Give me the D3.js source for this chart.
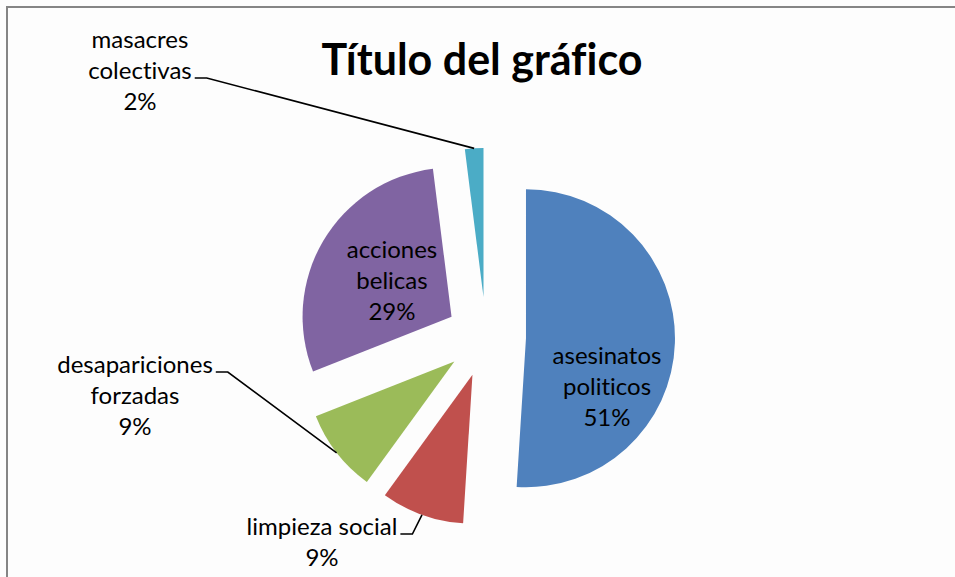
<!DOCTYPE html>
<html>
<head>
<meta charset="utf-8">
<script src="https://cdn.jsdelivr.net/npm/d3@7"></script>
<style>
    body { margin: 0; background: #fdfdfd; }
    text { font-family: Lato, "Open Sans", sans-serif; fill: #000; font-variant-ligatures: none; }
</style>
</head>
<body>
<div id="chart"></div>
<script>
// data
var categories = ["asesinatos\npoliticos", "limpieza social", "desapariciones\nforzadas", "acciones\nbelicas", "masacres\ncolectivas"];
var values = [51, 9, 9, 29, 2];
var colors = ["#4F81BD", "#C0504D", "#9BBB59", "#8064A2", "#4BACC6"];
var title = "Título del gráfico";

// label placement (centre x, first baseline, outside label?, line the leader hangs on)
var labelLayout = [
    { x: 607, y: 364, outside: false },
    { x: 322, y: 535, outside: true, leaderLine: 0 },
    { x: 135, y: 373, outside: true, leaderLine: 0 },
    { x: 392, y: 258, outside: false },
    { x: 140, y: 48, outside: true, leaderLine: 1 }
];

var width = 955, height = 577;
var cx = 486, cy = 337, radius = 149, explode = 40;
var lineHeight = 31;

var svg = d3.select("#chart")
    .append("svg")
    .attr("width", width)
    .attr("height", height);

// frame (only top and left edge are in view)
svg.append("rect")
    .attr("x", 7)
    .attr("y", 7)
    .attr("width", 1200)
    .attr("height", 1200)
    .attr("fill", "none")
    .attr("stroke", "#858585")
    .attr("stroke-width", 2);

svg.append("text")
    .attr("x", 482)
    .attr("y", 75)
    .attr("text-anchor", "middle")
    .style("font-size", "43px")
    .style("font-weight", "bold")
    .attr("textLength", 321)
    .attr("lengthAdjust", "spacingAndGlyphs")
    .text(title);

var total = d3.sum(values);
var pie = d3.pie().sort(null).value(function (d) { return d; });
var arcs = pie(values);

var arc = d3.arc().innerRadius(0).outerRadius(radius);
var rim = d3.arc().innerRadius(radius).outerRadius(radius);

function offset(d) {
    var mid = (d.startAngle + d.endAngle) / 2;
    return [explode * Math.sin(mid), -explode * Math.cos(mid)];
}

var g = svg.append("g")
    .attr("transform", "translate(" + cx + "," + cy + ")");

g.selectAll(".slice")
    .data(arcs)
    .enter()
    .append("path")
    .attr("class", "slice")
    .attr("transform", function (d) {
        var o = offset(d);
        return "translate(" + o[0] + "," + o[1] + ")";
    })
    .attr("fill", function (d, i) { return colors[i]; })
    .attr("d", arc);

// labels
arcs.forEach(function (d, i) {
    var lay = labelLayout[i];
    var lines = categories[i].split("\n");
    lines.push(Math.round(values[i] / total * 100) + "%");

    var texts = [];
    for (var k = 0; k < lines.length; k++) {
        var t = svg.append("text")
            .attr("x", lay.x)
            .attr("y", lay.y + k * lineHeight)
            .attr("text-anchor", "middle")
            .style("font-size", "24px")
            .text(lines[k]);
        texts.push(t);
    }

    if (lay.outside) {
        var t0 = texts[lay.leaderLine];
        var w = t0.node().getComputedTextLength();
        var sx = lay.x + w / 2 + 3;
        var sy = lay.y + lay.leaderLine * lineHeight - 1;
        var o = offset(d);
        var p = rim.centroid(d);
        var ex = cx + o[0] + p[0];
        var ey = cy + o[1] + p[1];
        svg.append("path")
            .attr("fill", "none")
            .attr("stroke", "#000")
            .attr("stroke-width", 1.6)
            .attr("d", "M" + sx + "," + sy + "H" + (sx + 12) + "L" + ex + "," + ey);
    }
});
</script>
</body>
</html>
